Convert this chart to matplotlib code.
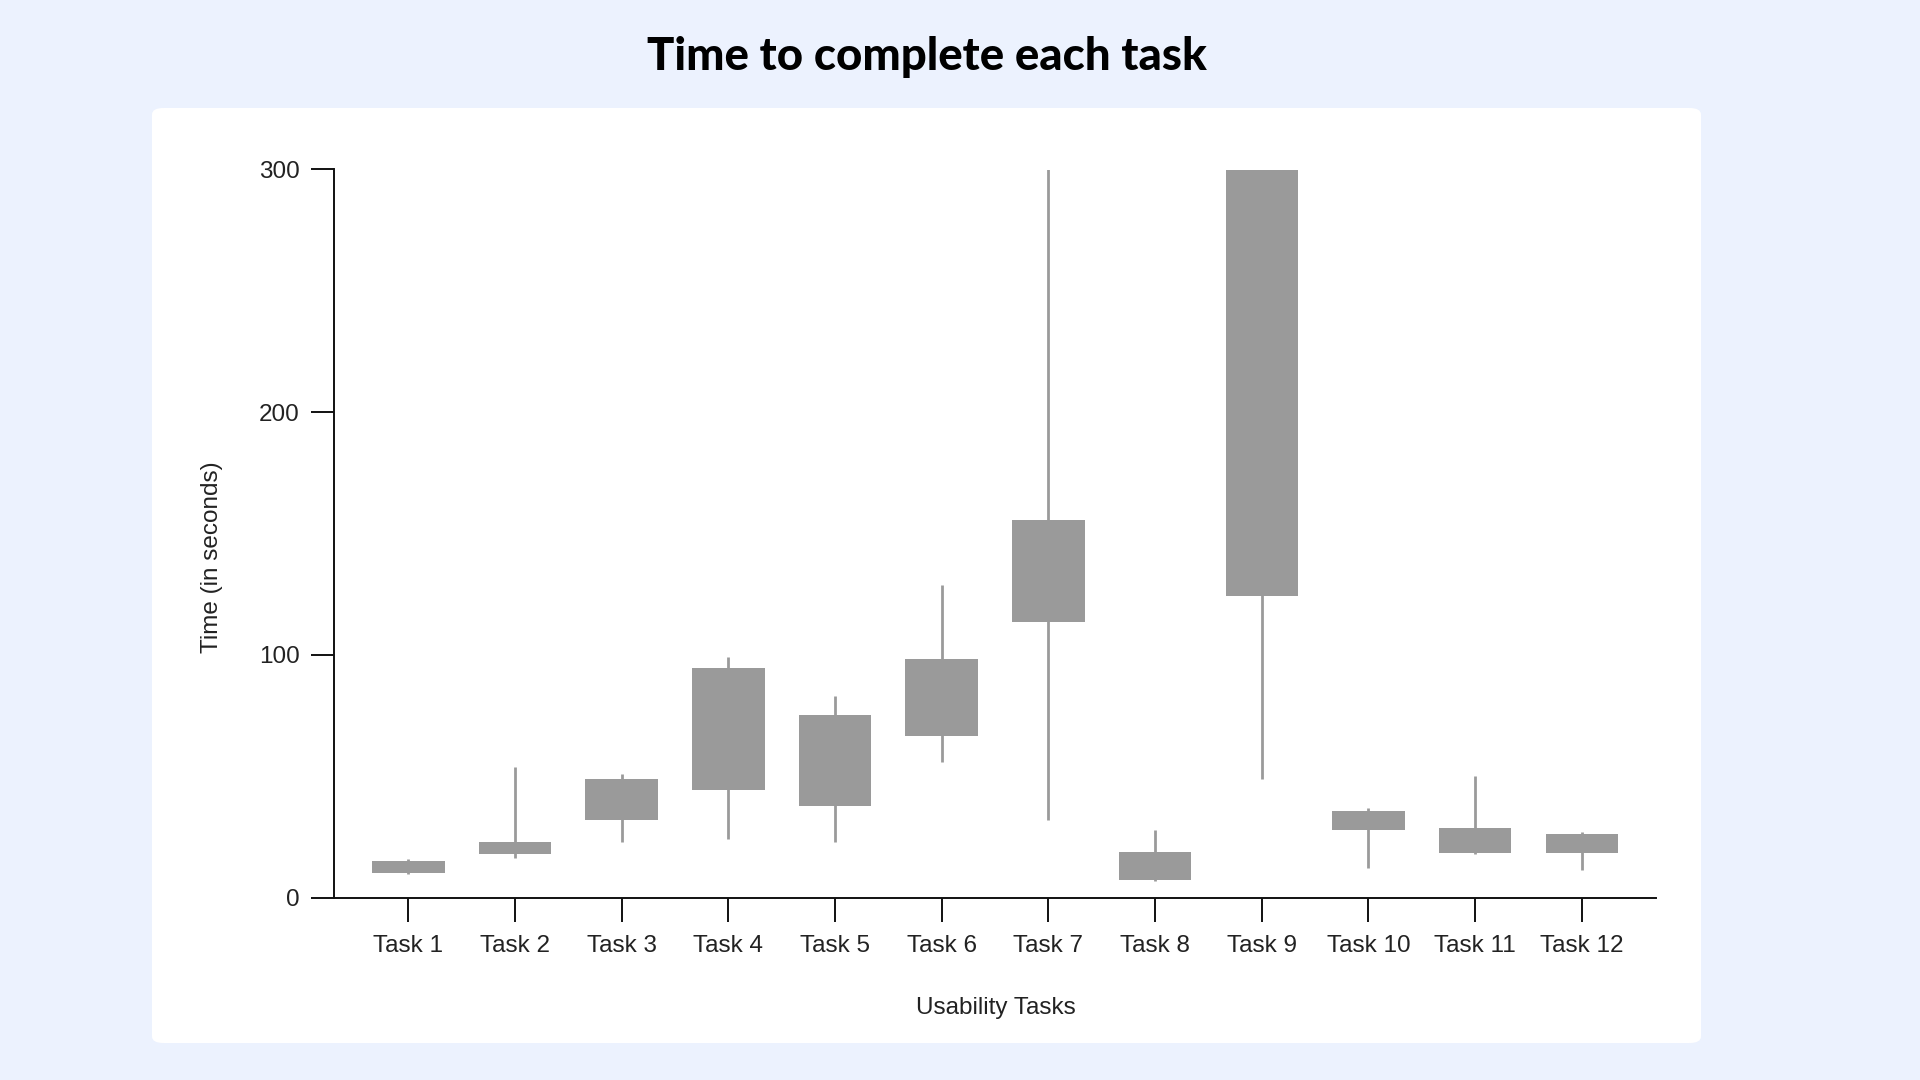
"""
Box-style range chart: time to complete each usability task.
"""

import matplotlib.pyplot as plt
from matplotlib.patches import FancyBboxPatch

# data (seconds)
tasks = [f"Task {i}" for i in range(1, 13)]
box_low = [10.3, 17.9, 32.1, 44.2, 37.7, 66.5, 113.6, 7.4, 124.1, 27.9, 18.5, 18.5]
box_high = [15.2, 22.8, 48.9, 94.6, 75.4, 98.4, 155.4, 18.8, 300.0, 35.9, 28.6, 26.1]
whisk_low = [9.8, 16.3, 23.0, 24.3, 23.0, 56.0, 32.1, 6.7, 49.1, 12.1, 17.9, 11.4]
whisk_high = [16.1, 54.0, 51.1, 99.1, 83.0, 129.0, 300.0, 27.9, 300.0, 37.1, 50.0, 27.2]
y_ticks = [0, 100, 200, 300]

BG = "#ECF2FE"
GRAY = "#9A9A9A"
TEXT = "#222222"

plt.rcParams["font.family"] = ["Liberation Sans", "DejaVu Sans"]

fig = plt.figure(figsize=(19.2, 10.8), dpi=100)
fig.patch.set_facecolor(BG)

# white card behind the chart
card = FancyBboxPatch(
    (152 / 1920, 1 - 1043 / 1080), (1701 - 152) / 1920, (1043 - 108) / 1080,
    boxstyle="round,pad=0,rounding_size=0.006",
    transform=fig.transFigure, facecolor="white", edgecolor="none", zorder=-10,
)
fig.patches.append(card)

ax = fig.add_axes([334 / 1920, 1 - 897.7 / 1080, 1321.5 / 1920, 728.2 / 1080])
ax.set_zorder(1)
ax.set_facecolor("none")

x = list(range(1, len(tasks) + 1))
ax.vlines(x, whisk_low, whisk_high, color=GRAY, linewidth=2.0, zorder=2)
heights = [h - l for l, h in zip(box_low, box_high)]
ax.bar(x, heights, bottom=box_low, width=0.68, color=GRAY, edgecolor="none", zorder=3)

ax.set_xlim(0.304, 12.69)
ax.set_ylim(0, 300)
ax.set_xticks(x)
ax.set_xticklabels(tasks)
ax.set_yticks(y_ticks)

for side in ["top", "right"]:
    ax.spines[side].set_visible(False)
for side in ["left", "bottom"]:
    ax.spines[side].set_linewidth(1.4)
    ax.spines[side].set_color("#111111")

ax.tick_params(axis="x", length=17, width=1.4, pad=10, labelsize=17.5, labelcolor=TEXT, color="#111111")
ax.tick_params(axis="y", length=16.5, width=1.4, pad=8, labelsize=17.5, labelcolor=TEXT, color="#111111")

fig.text(212 / 1920, 1 - 557 / 1080, "Time (in seconds)", rotation=90,
         ha="center", va="center", fontsize=17.5, color=TEXT)
fig.text(996 / 1920, 1 - 1008 / 1080, "Usability Tasks",
         ha="center", va="center", fontsize=17.5, color=TEXT)

fig.text(927 / 1920, 1 - 70 / 1080, "Time to complete each task",
         ha="center", va="baseline", fontsize=32.8, fontweight="black",
         family=["Lato", "DejaVu Sans"], color="black")

fig.savefig("out.png", dpi=100, facecolor=BG)
